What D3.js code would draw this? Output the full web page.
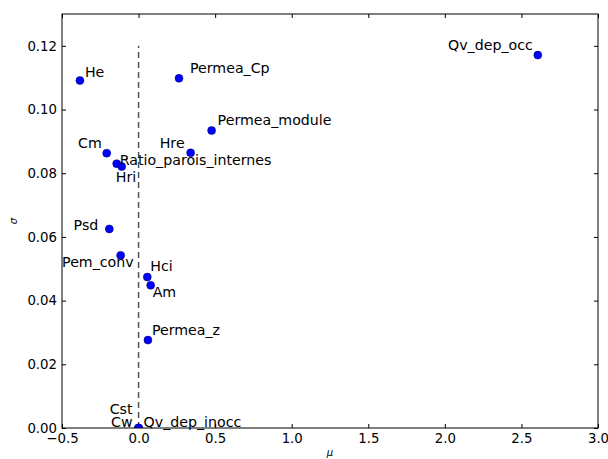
<!DOCTYPE html>
<html>
<head>
<meta charset="utf-8">
<script src="https://cdn.jsdelivr.net/npm/d3@7"></script>
<style>
  body { margin: 0; background: #fff; }
  svg { display: block; font-family: "DejaVu Sans", sans-serif; }
</style>
</head>
<body>
<div id="chart"></div>
<script>
// Morris screening: mu vs sigma per parameter
const names = ["He", "Permea_Cp", "Qv_dep_occ", "Permea_module", "Hre", "Cm",
  "Ratio_parois_internes", "Hri", "Psd", "Pem_conv", "Hci", "Am", "Permea_z",
  "Cst", "Cw", "Qv_dep_inocc"];
const mu = [-0.383, 0.264, 2.607, 0.477, 0.340, -0.208,
  -0.143, -0.110, -0.191, -0.117, 0.057, 0.079, 0.061,
  0.0, 0.0, 0.0];
const sigma = [0.1091, 0.1098, 0.1171, 0.0934, 0.0864, 0.0863,
  0.0830, 0.0821, 0.0625, 0.0542, 0.0474, 0.0448, 0.0276,
  0.0, 0.0, 0.0];
const xTicks = [-0.5, 0, 0.5, 1.0, 1.5, 2.0, 2.5, 3.0];
const yTicks = [0, 0.02, 0.04, 0.06, 0.08, 0.10, 0.12];

// label placement relative to the marker: [dx, dy, anchor]
const labelPos = {
  He: [5, -4, "start"], Permea_Cp: [11, -5, "start"], Qv_dep_occ: [-5, -5, "end"],
  Permea_module: [6, -6, "start"], Hre: [-6, -5, "end"], Cm: [-5, -5, "end"],
  Ratio_parois_internes: [3, 1, "start"], Hri: [-6, 15, "start"], Psd: [-11, 1, "end"],
  Pem_conv: [13, 12, "end"], Hci: [3, -6, "start"], Am: [2, 12, "start"],
  Permea_z: [4, -5, "start"], Cst: [-6, -14, "end"], Cw: [-6, -1, "end"],
  Qv_dep_inocc: [5, -1, "start"]
};

const data = names.map((n, i) => ({ name: n, x: mu[i], y: sigma[i] }));

const width = 608, height = 459;
const margin = { top: 14, right: 10, bottom: 31, left: 62 };
const fs = 14.2, tickFs = 13.3;

const svg = d3.select("#chart").append("svg")
  .attr("width", width)
  .attr("height", height);

const x = d3.scaleLinear().domain([-0.5, 3.0]).range([margin.left, width - margin.right]);
const y = d3.scaleLinear().domain([0, 0.13]).range([height - margin.bottom, margin.top]);

const fmtX = v => d3.format(".1f")(v).replace("-", "\u2212");

// axes, ticks pointing inward
svg.append("g")
  .attr("transform", `translate(0,${y(0)})`)
  .call(d3.axisBottom(x).tickValues(xTicks).tickFormat(fmtX).tickSizeInner(-4).tickSizeOuter(0).tickPadding(6))
  .call(g => g.select(".domain").remove());
svg.append("g")
  .attr("transform", `translate(0,${y(0.13)})`)
  .call(d3.axisTop(x).tickValues(xTicks).tickFormat("").tickSizeInner(-4).tickSizeOuter(0))
  .call(g => g.select(".domain").remove());
svg.append("g")
  .attr("transform", `translate(${x(-0.5)},0)`)
  .call(d3.axisLeft(y).tickValues(yTicks).tickFormat(d3.format(".2f")).tickSizeInner(-4).tickSizeOuter(0).tickPadding(5))
  .call(g => g.select(".domain").remove());
svg.append("g")
  .attr("transform", `translate(${x(3.0)},0)`)
  .call(d3.axisRight(y).tickValues(yTicks).tickFormat("").tickSizeInner(-4).tickSizeOuter(0))
  .call(g => g.select(".domain").remove());

svg.selectAll(".tick text")
  .attr("font-family", "DejaVu Sans, sans-serif")
  .attr("font-size", tickFs)
  .attr("fill", "#000");
svg.selectAll(".tick line").attr("stroke", "#000");

// vertical dashed line at mu = 0
svg.append("line")
  .attr("x1", x(0)).attr("x2", x(0))
  .attr("y1", y(0)).attr("y2", y(0.12))
  .attr("stroke", "#555")
  .attr("stroke-width", 1.5)
  .attr("stroke-dasharray", "6,4");

svg.append("clipPath").attr("id", "clip")
  .append("rect")
  .attr("x", x(-0.5)).attr("y", y(0.13))
  .attr("width", x(3.0) - x(-0.5))
  .attr("height", y(0) - y(0.13));

svg.append("g")
  .attr("clip-path", "url(#clip)")
  .selectAll("circle")
  .data(data)
  .join("circle")
  .attr("cx", d => x(d.x))
  .attr("cy", d => y(d.y))
  .attr("r", 4)
  .attr("fill", "#0000ff")
  .attr("stroke", "#000066")
  .attr("stroke-width", 0.5);

svg.append("g")
  .selectAll("text")
  .data(data)
  .join("text")
  .attr("x", d => x(d.x) + labelPos[d.name][0])
  .attr("y", d => y(d.y) + labelPos[d.name][1])
  .attr("text-anchor", d => labelPos[d.name][2])
  .attr("font-size", fs)
  .attr("fill", "#000")
  .text(d => d.name);

// frame
svg.append("rect")
  .attr("x", x(-0.5)).attr("y", y(0.13))
  .attr("width", x(3.0) - x(-0.5))
  .attr("height", y(0) - y(0.13))
  .attr("fill", "none")
  .attr("stroke", "#000")
  .attr("stroke-width", 1);

// axis labels
svg.append("text")
  .attr("x", (x(-0.5) + x(3.0)) / 2)
  .attr("y", 456)
  .attr("text-anchor", "middle")
  .attr("font-size", 10)
  .attr("font-style", "italic")
  .text("\u03bc");
svg.append("text")
  .attr("transform", `translate(17,${(y(0) + y(0.13)) / 2}) rotate(-90)`)
  .attr("text-anchor", "middle")
  .attr("font-size", 10)
  .attr("font-style", "italic")
  .text("\u03c3");
</script>
</body>
</html>
